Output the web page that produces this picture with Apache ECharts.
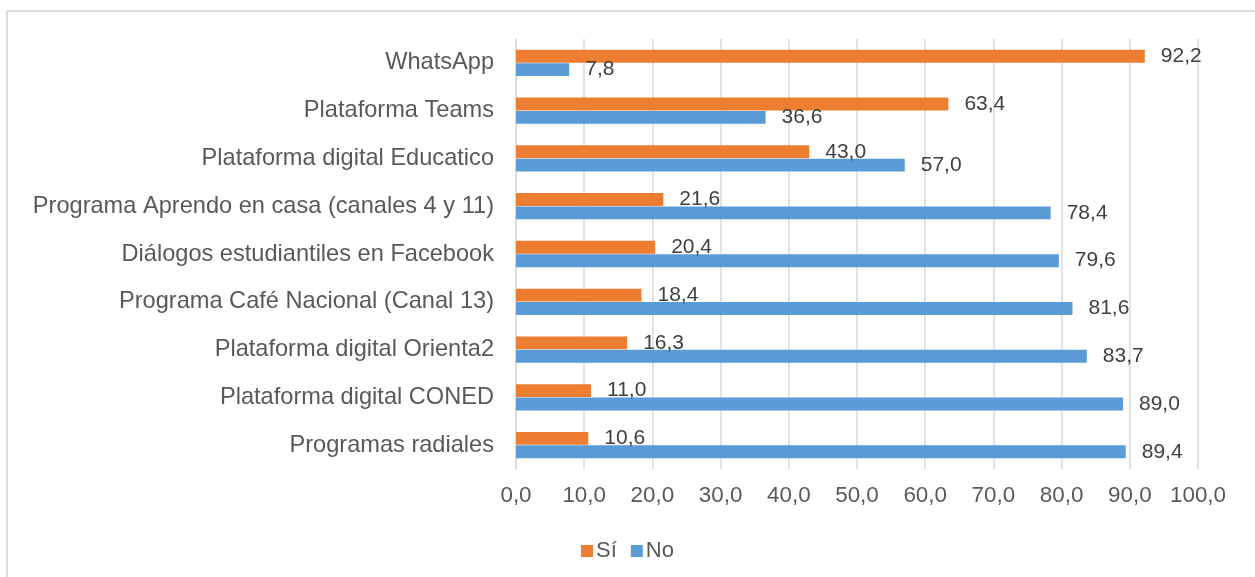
<!DOCTYPE html>
<html>
<head>
<meta charset="utf-8">
<script src="https://cdn.jsdelivr.net/npm/echarts@6/dist/echarts.min.js"></script>
<style>
  html, body { margin: 0; padding: 0; background: #fff; }
  #frame { position: absolute; left: 6px; top: 10px; width: 1260px; height: 580px; border: 2px solid #dedede; box-sizing: border-box; }
  #chart { position: absolute; left: 0; top: 0; width: 1255px; height: 577px; }
</style>
</head>
<body>
<div id="frame"></div>
<div id="chart"></div>
<script>
let categories = [
  'WhatsApp',
  'Plataforma Teams',
  'Plataforma digital Educatico',
  'Programa Aprendo en casa (canales 4 y 11)',
  'Diálogos estudiantiles en Facebook',
  'Programa Café Nacional (Canal 13)',
  'Plataforma digital Orienta2',
  'Plataforma digital CONED',
  'Programas radiales'
]
let si = [92.2, 63.4, 43.0, 21.6, 20.4, 18.4, 16.3, 11.0, 10.6]
let no = [7.8, 36.6, 57.0, 78.4, 79.6, 81.6, 83.7, 89.0, 89.4]

const fmt = v => v.toFixed(1).replace('.', ',')

var chart = echarts.init(document.getElementById('chart'))

let label = {
  show: true,
  position: 'right',
  distance: 16,
  color: '#404040',
  fontSize: 21,
  fontFamily: 'Liberation Sans',
  formatter: p => fmt(p.value)
}

let option = {
  animation: false,
  textStyle: { fontFamily: 'Liberation Sans' },
  grid: { left: 516, right: 57, top: 39, bottom: 108, containLabel: false },
  legend: {
    bottom: 10,
    left: 'center',
    itemWidth: 12,
    itemHeight: 12,
    itemGap: 14,
    icon: 'rect',
    textStyle: { color: '#595959', fontSize: 22, fontFamily: 'Liberation Sans', padding: [0, 0, 0, -2] },
    data: ['Sí', 'No']
  },
  xAxis: {
    type: 'value',
    min: 0,
    max: 100,
    interval: 10,
    axisLine: { show: false },
    axisTick: { show: false },
    splitLine: { lineStyle: { color: '#d9d9d9', width: 1.5 } },
    axisLabel: { color: '#595959', fontSize: 22.4, margin: 16, formatter: v => fmt(v) }
  },
  yAxis: {
    type: 'category',
    inverse: true,
    data: categories,
    axisLine: { lineStyle: { color: '#d9d9d9', width: 1.5 } },
    axisTick: { show: false },
    axisLabel: { color: '#595959', fontSize: 23.6, margin: 22 }
  },
  series: [
    {
      name: 'Sí',
      type: 'bar',
      data: si,
      itemStyle: { color: '#ED7D31' },
      barGap: '4%',
      barCategoryGap: '45%',
      label: label
    },
    {
      name: 'No',
      type: 'bar',
      data: no,
      itemStyle: { color: '#5B9BD5' },
      label: label
    }
  ]
}
chart.setOption(option)
</script>
</body>
</html>
